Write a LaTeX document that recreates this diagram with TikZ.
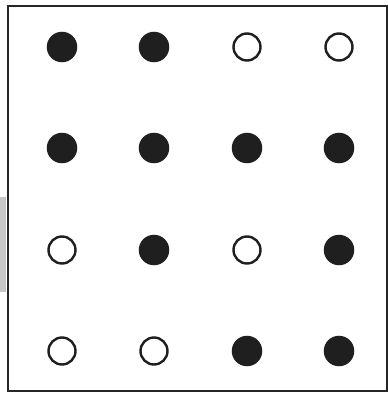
\documentclass[tikz,border=0pt]{standalone}
\begin{document}
\begin{tikzpicture}[x=0.75pt,y=-0.75pt,
  dotfull/.style={circle,draw=black!88,fill=black!88,line width=1.5pt,minimum size=28.5*0.75pt,inner sep=0pt},
  dotopen/.style={circle,draw=black!88,fill=white,line width=1.8pt,minimum size=27*0.75pt,inner sep=0pt}]
\useasboundingbox (0,0) rectangle (388,393);
\fill[black!22] (0,197) rectangle (6,292);
\draw[black!85,line width=1.5pt] (7.5,5.5) rectangle (386.5,390.5);
\node[dotfull] (a11) at (62,47) {};
\node[dotfull] (a12) at (154,47) {};
\node[dotopen] (a13) at (247,47) {};
\node[dotopen] (a14) at (339,47) {};
\node[dotfull] (a21) at (62,148) {};
\node[dotfull] (a22) at (154,148) {};
\node[dotfull] (a23) at (247,148) {};
\node[dotfull] (a24) at (339,148) {};
\node[dotopen] (a31) at (62,250) {};
\node[dotfull] (a32) at (154,250) {};
\node[dotopen] (a33) at (247,250) {};
\node[dotfull] (a34) at (339,250) {};
\node[dotopen] (a41) at (62,351) {};
\node[dotopen] (a42) at (154,351) {};
\node[dotfull] (a43) at (247,351) {};
\node[dotfull] (a44) at (339,351) {};
\end{tikzpicture}
\end{document}
